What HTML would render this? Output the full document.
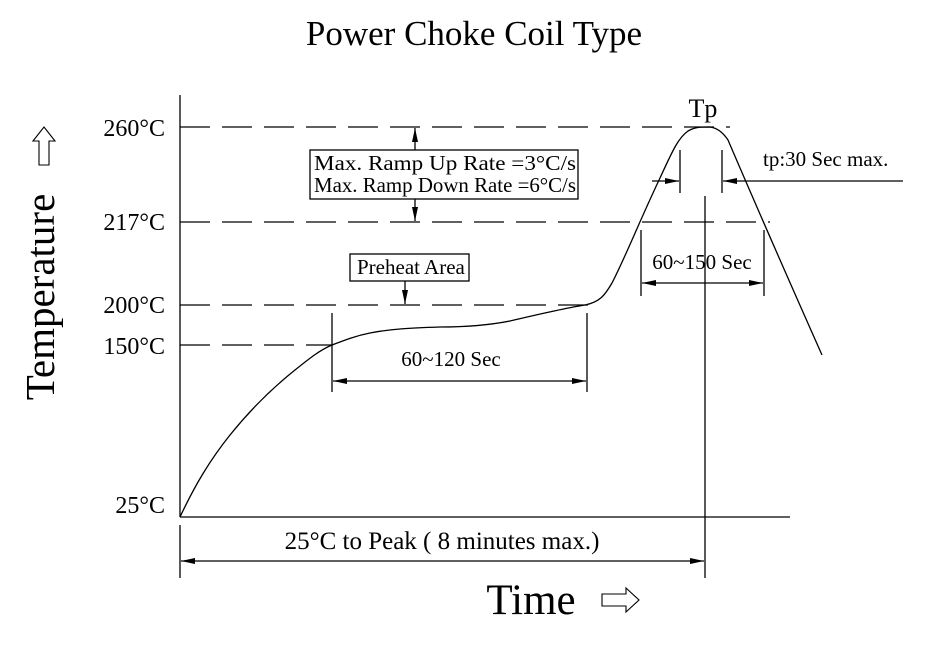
<!DOCTYPE html>
<html><head><style>body{margin:0;background:#fff}svg{display:block}text{font-family:"Liberation Serif",serif;fill:#000}</style></head>
<body>
<svg width="946" height="646" viewBox="0 0 946 646" xmlns="http://www.w3.org/2000/svg">
<defs>
<marker id="ar" viewBox="0 0 14 6" refX="14" refY="3" markerWidth="14" markerHeight="6" markerUnits="userSpaceOnUse" orient="auto"><path d="M0,0L14,3L0,6Z" fill="#000"/></marker>
</defs>
<text x="474" y="45" font-size="35" text-anchor="middle">Power Choke Coil Type</text>
<g stroke="#000" stroke-width="1.3" fill="none">
<line x1="180" y1="95" x2="180" y2="517"/>
<line x1="180" y1="517" x2="790" y2="517"/>
<g stroke-dasharray="30,12">
<line x1="180" y1="127" x2="730" y2="127"/>
<line x1="180" y1="222" x2="770" y2="222"/>
<line x1="180" y1="305" x2="590" y2="305"/>
<line x1="180" y1="345" x2="332" y2="345"/>
</g>
<path d="M180,517 C195,485 210,460 230,435 C250,410 270,390 295,370 C310,358 320,350 332,345 C345,340 355,336 370,333 C390,329 410,328 440,327 C470,327 490,325 510,321 C540,314 565,308 585,305 C600,302 605,295 612,283 C625,258 640,220 660,178 C672,152 678,138 688,131 C695,127 700,127 710,127 C718,128 724,134 728,140 C740,168 770,238 822,355"/>
<line x1="415" y1="150" x2="415" y2="128" marker-end="url(#ar)"/>
<line x1="415" y1="199" x2="415" y2="221" marker-end="url(#ar)"/>
<line x1="405" y1="281" x2="405" y2="304" marker-end="url(#ar)"/>
<line x1="332" y1="313" x2="332" y2="392"/>
<line x1="587" y1="313" x2="587" y2="392"/>
<line x1="360" y1="381" x2="333" y2="381" marker-end="url(#ar)"/>
<line x1="360" y1="381" x2="586" y2="381" marker-end="url(#ar)"/>
<line x1="641" y1="230" x2="641" y2="296"/>
<line x1="764" y1="230" x2="764" y2="296"/>
<line x1="700" y1="283" x2="642" y2="283" marker-end="url(#ar)"/>
<line x1="700" y1="283" x2="763" y2="283" marker-end="url(#ar)"/>
<line x1="652" y1="181" x2="679" y2="181" marker-end="url(#ar)"/>
<line x1="903" y1="181" x2="723" y2="181" marker-end="url(#ar)"/>
<line x1="680" y1="150" x2="680" y2="193"/>
<line x1="722" y1="150" x2="722" y2="193"/>
<line x1="705" y1="196" x2="705" y2="578"/>
<line x1="180" y1="525" x2="180" y2="578"/>
<line x1="400" y1="561" x2="181" y2="561" marker-end="url(#ar)"/>
<line x1="400" y1="561" x2="704" y2="561" marker-end="url(#ar)"/>
<rect x="310" y="150" width="268" height="49" fill="#fff"/>
<rect x="350" y="254" width="119" height="27" fill="#fff"/>
<path d="M602,594 h24 v-6 l13,12 l-13,12 v-6 h-24 z" stroke-width="1.1"/>
<path d="M39,165 v-24 h-6 l11,-14 l11,14 h-6 v24 z" stroke-width="1.1"/>
</g>
<g font-size="21">
<text x="314" y="170" textLength="262" lengthAdjust="spacingAndGlyphs">Max. Ramp Up Rate =3°C/s</text>
<text x="314" y="192" textLength="262" lengthAdjust="spacingAndGlyphs">Max. Ramp Down Rate =6°C/s</text>
<text x="357" y="274" font-size="21">Preheat Area</text>
<text x="451" y="366" text-anchor="middle">60~120 Sec</text>
<text x="702" y="269" text-anchor="middle">60~150 Sec</text>
<text x="763" y="166">tp:30 Sec max.</text>
<text x="703" y="117" text-anchor="middle" font-size="26">Tp</text>
<text x="442" y="549" text-anchor="middle" font-size="25">25°C to Peak ( 8 minutes max.)</text>
<g font-size="24" text-anchor="end">
<text x="165" y="136">260°C</text>
<text x="165" y="230">217°C</text>
<text x="165" y="313">200°C</text>
<text x="165" y="354">150°C</text>
<text x="165" y="513">25°C</text>
</g>
</g>
<text x="531" y="614" text-anchor="middle" font-size="43">Time</text>
<text transform="translate(54,297) rotate(-90)" text-anchor="middle" font-size="41">Temperature</text>
</svg>
</body></html>
